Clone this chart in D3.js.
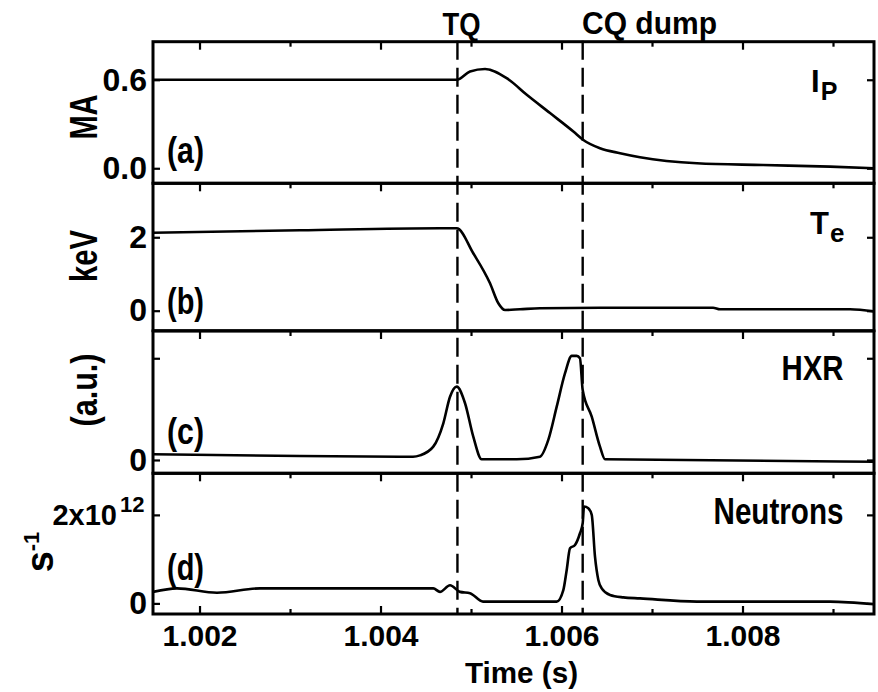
<!DOCTYPE html>
<html>
<head>
<meta charset="utf-8">
<script src="https://cdn.jsdelivr.net/npm/d3@7"></script>
<style>
  body { margin: 0; background: #fff; }
  svg { display: block; }
  text { font-family: "Liberation Sans", Arial, Helvetica, sans-serif; font-weight: bold; fill: #000; }
</style>
</head>
<body>
<svg id="chart" width="878" height="692"></svg>
<script>
// ---- shared time axis (s) ----
const timeDomain = [1.001486, 1.009453];
const majorTicks = [1.002, 1.004, 1.006, 1.008];
const minorTicks = [1.003, 1.005, 1.007, 1.009];
const eventNames = ["TQ", "CQ dump"];
const eventTimes = [1.00485, 1.006234];

// ---- (a) plasma current Ip, MA ----
const ipTime  = [1.001486, 1.004842, 1.004989, 1.005155, 1.005394, 1.005616, 1.005873, 1.006131,
                 1.006241, 1.006425, 1.006647, 1.006867, 1.007497, 1.008227, 1.008967, 1.009453];
const ipValue = [0.600, 0.600, 0.656, 0.673, 0.611, 0.498, 0.374, 0.249,
                 0.192, 0.136, 0.102, 0.075, 0.034, 0.022, 0.011, 0.000];

// ---- (b) electron temperature Te, keV ----
const teTime  = [1.001486, 1.003110, 1.004657, 1.004842, 1.005025, 1.005210, 1.005302, 1.005376,
                 1.005541, 1.005762, 1.006425, 1.007674, 1.007751, 1.009188, 1.009453];
const teValue = [2.125, 2.190, 2.245, 2.245, 1.564, 0.747, 0.202, 0.019,
                 0.038, 0.065, 0.080, 0.082, 0.040, 0.038, -0.020];

// ---- (c) hard X-ray signal, a.u. ----
const hxrTime  = [1.001486, 1.003110, 1.004359, 1.004436, 1.004583, 1.004694, 1.004768, 1.004842,
                  1.004934, 1.005025, 1.005118, 1.005505, 1.005762, 1.005854, 1.005947, 1.006039,
                  1.006113, 1.006168, 1.006204, 1.006234, 1.006334, 1.006425, 1.006481, 1.009453];
const hxrValue = [0.056, 0.039, 0.032, 0.045, 0.131, 0.361, 0.622, 0.721,
                  0.558, 0.229, 0.007, 0.007, 0.032, 0.197, 0.524, 0.853,
                  1.023, 1.023, 1.000, 0.688, 0.426, 0.131, 0.007, -0.017];

// ---- (d) neutron rate, 10^12 s^-1 ----
const neutronTime  = [1.001486, 1.001751, 1.002193, 1.002669, 1.004583, 1.004657, 1.004768, 1.004878,
                      1.004989, 1.005133, 1.005652, 1.005947, 1.006020, 1.006057, 1.006094, 1.006149,
                      1.006204, 1.006234, 1.006249, 1.006296, 1.006334, 1.006370, 1.006407, 1.006444,
                      1.006536, 1.006683, 1.006867, 1.007497, 1.008967, 1.009453];
const neutronValue = [0.26, 0.34, 0.24, 0.34, 0.34, 0.26, 0.41, 0.26,
                      0.23, 0.04, 0.04, 0.04, 0.30, 0.75, 1.245, 1.32,
                      1.585, 1.81, 2.19, 2.15, 2.00, 1.055, 0.53, 0.34,
                      0.19, 0.136, 0.113, 0.04, 0.04, -0.02];

// ---- y tick values and labels per panel ----
const ipTicks = [0, 0.6],      ipTickLabels = [["0.0"], ["0.6"]];
const teTicks = [0, 2],        teTickLabels = [["0"], ["2"]];
const hxrTicks = [0, 1],       hxrTickLabels = [["0"], [""]];
const neutronTicks = [0, 2],   neutronTickLabels = [["0"], ["2x10", "12"]];

// ---- layout ----
const svg = d3.select("#chart");
const left = 153, right = 874;
const x = d3.scaleLinear().domain(timeDomain).range([left, right]);

const panels = [
  { id: "a", top: 41.7,  bottom: 183.3, domain: [-0.102, 0.858], t: ipTime, v: ipValue,
    ticks: ipTicks, labels: ipTickLabels, unit: "MA", unitX: 97, unitY: 117, unitSize: 38, unitLen: 45,
    tag: "(a)", tagY: 163 },
  { id: "b", top: 183.3, bottom: 330.7, domain: [-0.545, 3.47], t: teTime, v: teValue,
    ticks: teTicks, labels: teTickLabels, unit: "keV", unitX: 97, unitY: 256, unitSize: 38, unitLen: 52,
    tag: "(b)", tagY: 314 },
  { id: "c", top: 331,   bottom: 473.3, domain: [-0.131, 1.268], t: hxrTime, v: hxrValue,
    ticks: hxrTicks, labels: hxrTickLabels, unit: "(a.u.)", unitX: 97, unitY: 390, unitSize: 36, unitLen: 73,
    tag: "(c)", tagY: 444 },
  { id: "d", top: 473.3, bottom: 614,   domain: [-0.24, 2.94], t: neutronTime, v: neutronValue,
    ticks: neutronTicks, labels: neutronTickLabels, unit: null,
    tag: "(d)", tagY: 580 }
];

const lineW = 2.6, frameW = 3;

panels.forEach((p, i) => {
  const y = d3.scaleLinear().domain(p.domain).range([p.bottom, p.top]);
  p.y = y;
  const g = svg.append("g").attr("class", "panel-" + p.id);

  const clipId = "clip-" + p.id;
  svg.append("clipPath").attr("id", clipId)
    .append("rect").attr("x", left).attr("y", p.top).attr("width", right - left).attr("height", p.bottom - p.top);

  // data curve
  const pts = p.t.map((t, k) => [t, p.v[k]]);
  g.append("path")
    .datum(pts)
    .attr("clip-path", `url(#${clipId})`)
    .attr("fill", "none")
    .attr("stroke", "#000")
    .attr("stroke-width", lineW)
    .attr("stroke-linejoin", "round")
    .attr("d", d3.line().x(d => x(d[0])).y(d => y(d[1])).curve(d3.curveMonotoneX));

  // time ticks along the top edge, pointing inward
  const topMajor = d3.axisBottom(x).tickValues(majorTicks).tickSize(8).tickFormat("");
  const topMinor = d3.axisBottom(x).tickValues(minorTicks).tickSize(5).tickFormat("");
  [topMajor, topMinor].forEach(ax => {
    const a = g.append("g").attr("transform", `translate(0,${p.top})`).call(ax);
    a.select(".domain").remove();
    a.selectAll("line").attr("stroke", "#000").attr("stroke-width", 2.2);
  });

  // value ticks on both sides, pointing inward
  const yl = g.append("g").attr("transform", `translate(${left},0)`)
    .call(d3.axisRight(y).tickValues(p.ticks).tickSize(7).tickFormat(""));
  const yr = g.append("g").attr("transform", `translate(${right},0)`)
    .call(d3.axisLeft(y).tickValues(p.ticks).tickSize(7).tickFormat(""));
  [yl, yr].forEach(a => {
    a.select(".domain").remove();
    a.selectAll("line").attr("stroke", "#000").attr("stroke-width", 2.2);
  });

  // value tick labels
  const lab = g.append("g").attr("transform", `translate(${left},0)`)
    .call(d3.axisLeft(y).tickValues(p.ticks).tickSize(0).tickPadding(6).tickFormat(""));
  lab.attr("font-size", null).attr("font-family", null);
  lab.select(".domain").remove();
  lab.selectAll(".tick").each(function(d, k) {
    const parts = p.labels[k];
    const tick = d3.select(this);
    const t = tick.select("text").attr("font-size", 32).attr("fill", "#000");
    if (parts.length === 1) {
      t.text(parts[0]);
    } else {
      // mantissa and exponent as two pieces so the exponent sits clear of the base
      t.text(parts[0]).attr("x", -36).attr("font-size", 29);
      tick.append("text").attr("x", -33).attr("y", -3).attr("text-anchor", "start")
        .attr("font-size", 22).attr("fill", "#000").text(parts[1]);
    }
  });

  // panel tag
  g.append("text").attr("x", 167).attr("y", p.tagY)
    .attr("font-size", 37).attr("textLength", 37).attr("lengthAdjust", "spacingAndGlyphs")
    .text(p.tag);

  // y unit title
  if (p.unit) {
    g.append("text")
      .attr("transform", `translate(${p.unitX},${p.unitY}) rotate(-90)`)
      .attr("text-anchor", "middle")
      .attr("font-size", p.unitSize)
      .attr("textLength", p.unitLen).attr("lengthAdjust", "spacingAndGlyphs")
      .text(p.unit);
  }

  // frame
  g.append("rect")
    .attr("x", left).attr("y", p.top)
    .attr("width", right - left).attr("height", p.bottom - p.top)
    .attr("fill", "none").attr("stroke", "#000").attr("stroke-width", frameW);
});

// neutron unit s^-1
const sUnit = svg.append("text")
  .attr("transform", "translate(53,552) rotate(-90)")
  .attr("text-anchor", "middle");
sUnit.append("tspan").attr("font-size", 38).text("s");
sUnit.append("tspan").attr("font-size", 22).attr("dy", -14).text("-1");

// bottom time axis
const last = panels[panels.length - 1];
[[majorTicks, 8], [minorTicks, 5]].forEach(([vals, size]) => {
  const a = svg.append("g").attr("transform", `translate(0,${last.bottom})`)
    .call(d3.axisTop(x).tickValues(vals).tickSize(size).tickFormat(""));
  a.select(".domain").remove();
  a.selectAll("line").attr("stroke", "#000").attr("stroke-width", 2.2);
});
const xl = svg.append("g").attr("transform", `translate(0,${last.bottom})`)
  .call(d3.axisBottom(x).tickValues(majorTicks).tickSize(0).tickPadding(11).tickFormat(d3.format(".3f")));
xl.attr("font-size", null).attr("font-family", null);
xl.select(".domain").remove();
xl.selectAll(".tick text").attr("font-size", 30).attr("fill", "#000");

svg.append("text")
  .attr("x", 521.5).attr("y", 683)
  .attr("text-anchor", "middle")
  .attr("font-size", 30).attr("textLength", 113).attr("lengthAdjust", "spacingAndGlyphs")
  .text("Time (s)");

// event markers
const first = panels[0];
eventTimes.forEach((t, k) => {
  svg.append("line")
    .attr("x1", x(t)).attr("x2", x(t))
    .attr("y1", first.top - 1).attr("y2", last.bottom)
    .attr("stroke", "#000").attr("stroke-width", 2.4)
    .attr("stroke-dasharray", "19,8");
});
svg.append("text").attr("x", x(eventTimes[0]) + 4).attr("y", 35)
  .attr("text-anchor", "middle").attr("font-size", 32)
  .attr("textLength", 38).attr("lengthAdjust", "spacingAndGlyphs")
  .text(eventNames[0]);
svg.append("text").attr("x", 582).attr("y", 34)
  .attr("font-size", 32)
  .attr("textLength", 135).attr("lengthAdjust", "spacingAndGlyphs")
  .text(eventNames[1]);

// series names
const ipName = svg.append("text").attr("x", 811).attr("y", 92);
ipName.append("tspan").attr("font-size", 31).text("I");
ipName.append("tspan").attr("font-size", 25).attr("dy", 8).attr("dx", 1).text("P");

const teName = svg.append("text").attr("x", 810).attr("y", 233.5);
teName.append("tspan").attr("font-size", 31).text("T");
teName.append("tspan").attr("font-size", 26).attr("dy", 8).attr("dx", 1).text("e");

svg.append("text").attr("x", 843.5).attr("y", 380)
  .attr("text-anchor", "end").attr("font-size", 35)
  .attr("textLength", 62).attr("lengthAdjust", "spacingAndGlyphs")
  .text("HXR");
svg.append("text").attr("x", 843.5).attr("y", 523.5)
  .attr("text-anchor", "end").attr("font-size", 36)
  .attr("textLength", 130).attr("lengthAdjust", "spacingAndGlyphs")
  .text("Neutrons");
</script>
</body>
</html>
